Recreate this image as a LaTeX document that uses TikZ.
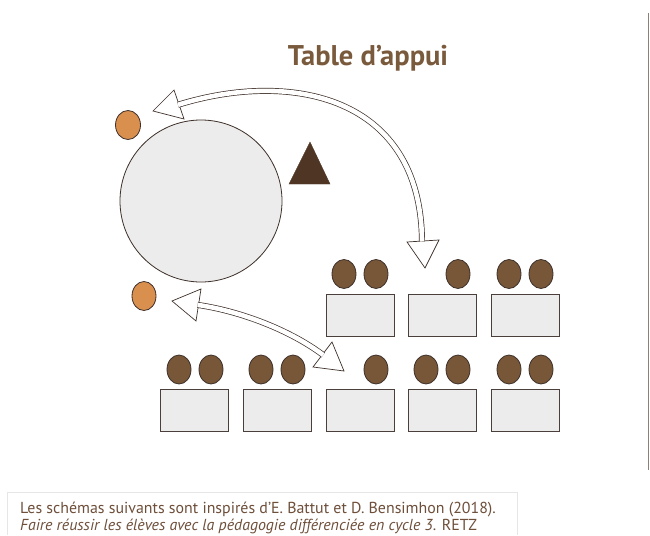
\documentclass[tikz,border=0pt]{standalone}
\usepackage{fontspec}
\setmainfont{PT Sans}
\usetikzlibrary{shapes.geometric}
\definecolor{ink}{HTML}{3E302A}
\definecolor{deskline}{HTML}{4A3F3A}
\definecolor{deskfill}{HTML}{ECECEC}
\definecolor{pupilfill}{HTML}{775738}
\definecolor{orangefill}{HTML}{D98F4E}
\definecolor{teacher}{HTML}{4E3524}
\definecolor{titlecol}{HTML}{7A5A3C}
\definecolor{captioncol}{HTML}{6E4F3A}
\definecolor{framecol}{HTML}{E6E6E6}
\definecolor{rulecol}{HTML}{8C807A}
\begin{document}
\begin{tikzpicture}[x=1pt,y=-1pt,
  desk/.style={draw=deskline, fill=deskfill, line width=0.9pt, minimum width=68pt, minimum height=42pt, inner sep=0pt, rectangle},
  pupil/.style={ellipse, draw=ink, fill=pupilfill, line width=0.8pt, minimum width=24pt, minimum height=29pt, inner sep=0pt},
  helper/.style={ellipse, draw=ink, fill=orangefill, line width=0.8pt, minimum width=25pt, minimum height=29pt, inner sep=0pt},
  headstyle/.style={draw=ink, fill=white, line width=0.7pt, line join=miter},
  shaft/.style={draw=ink, line width=0.7pt, double=white, double distance=4.6pt},
  captiontext/.style={text=captioncol, font=\fontsize{15.9}{19}\selectfont, inner sep=0pt, anchor=base west}]
\useasboundingbox (0,0) rectangle (650,535);
\fill[white] (0,0) rectangle (650,535);

% title
\node[text=titlecol, font=\fontsize{28.5}{33}\selectfont\bfseries, anchor=base, inner sep=0pt] (title) at (368,65) {Table d’appui};

% round table and helpers
\node[circle, draw=ink, fill=deskfill, line width=0.8pt, minimum size=162pt, inner sep=0pt] (round) at (201,201) {};
\node[helper] (h1) at (128,125) {};
\node[helper, minimum width=24pt] (h2) at (144,296) {};

% teacher
\draw[fill=teacher, draw=teacher] (310,142) -- (289,184) -- (330,184) -- cycle;

% desks row 1
\node[desk] (d11) at (360,315) {};
\node[desk] (d12) at (442,315) {};
\node[desk] (d13) at (525,315) {};
% desks row 2
\node[desk] (d21) at (194.5,410) {};
\node[desk] (d22) at (277.5,410) {};
\node[desk] (d23) at (360,410) {};
\node[desk] (d24) at (442,410) {};
\node[desk] (d25) at (525,410) {};

% pupils row 1
\node[pupil] (p1) at (344,274) {};
\node[pupil] (p2) at (376,274) {};
\node[pupil] (p3) at (458,274) {};
\node[pupil] (p4) at (509,274) {};
\node[pupil] (p5) at (541,274) {};
% pupils row 2
\node[pupil] (q1) at (179,369.5) {};
\node[pupil] (q2) at (211,369.5) {};
\node[pupil] (q3) at (261,369.5) {};
\node[pupil] (q4) at (293,369.5) {};
\node[pupil] (q5) at (376,369.5) {};
\node[pupil] (q6) at (426,369.5) {};
\node[pupil] (q7) at (458,369.5) {};
\node[pupil] (q8) at (509,369.5) {};
\node[pupil] (q9) at (541,369.5) {};

% arrow 1 (between helper 1 and row 1)
\coordinate (a1tip) at (153,111);
\coordinate (a1w1) at (174,90);
\coordinate (a1w2) at (184,119);
\coordinate (a1s) at (178,104.8);
\coordinate (b1tip) at (425,268);
\coordinate (b1w1) at (407,242);
\coordinate (b1w2) at (439,240);
\coordinate (b1s) at (422,241.5);
\draw[headstyle] (a1tip) -- (a1w1) -- (a1w2) -- cycle;
\draw[headstyle] (b1tip) -- (b1w1) -- (b1w2) -- cycle;
\draw[shaft] (a1s) .. controls (290,70) and (421,95) .. (b1s);

% arrow 2 (between helper 2 and row 2)
\coordinate (a2tip) at (172,301);
\coordinate (a2w1) at (201,289);
\coordinate (a2w2) at (196,321);
\coordinate (a2s) at (197.6,304.9);
\coordinate (b2tip) at (344,371);
\coordinate (b2w1) at (332,342);
\coordinate (b2w2) at (313,367);
\coordinate (b2s) at (323.2,355.0);
\draw[headstyle] (a2tip) -- (a2w1) -- (a2w2) -- cycle;
\draw[headstyle] (b2tip) -- (b2w1) -- (b2w2) -- cycle;
\draw[shaft] (a2s) .. controls (240,311) and (290,330) .. (b2s);

% right rule
\coordinate (r1) at (648.5,13);
\coordinate (r2) at (648.5,470);
\draw[rulecol, line width=1.2pt] (r1) -- (r2);

% caption frame and text
\coordinate (f1) at (7,535);
\coordinate (f2) at (7,492);
\coordinate (f3) at (517,492);
\coordinate (f4) at (517,535);
\draw[framecol, line width=0.8pt] (f1) -- (f2) -- (f3) -- (f4);
\node[captiontext] (c1) at (20,513) {Les schémas suivants sont inspirés d’E. Battut et D. Bensimhon (2018).};
\node[captiontext] (c2) at (20,530) {\textit{Faire réussir les élèves avec la pédagogie différenciée en cycle 3}. RETZ};
\end{tikzpicture}
\end{document}
